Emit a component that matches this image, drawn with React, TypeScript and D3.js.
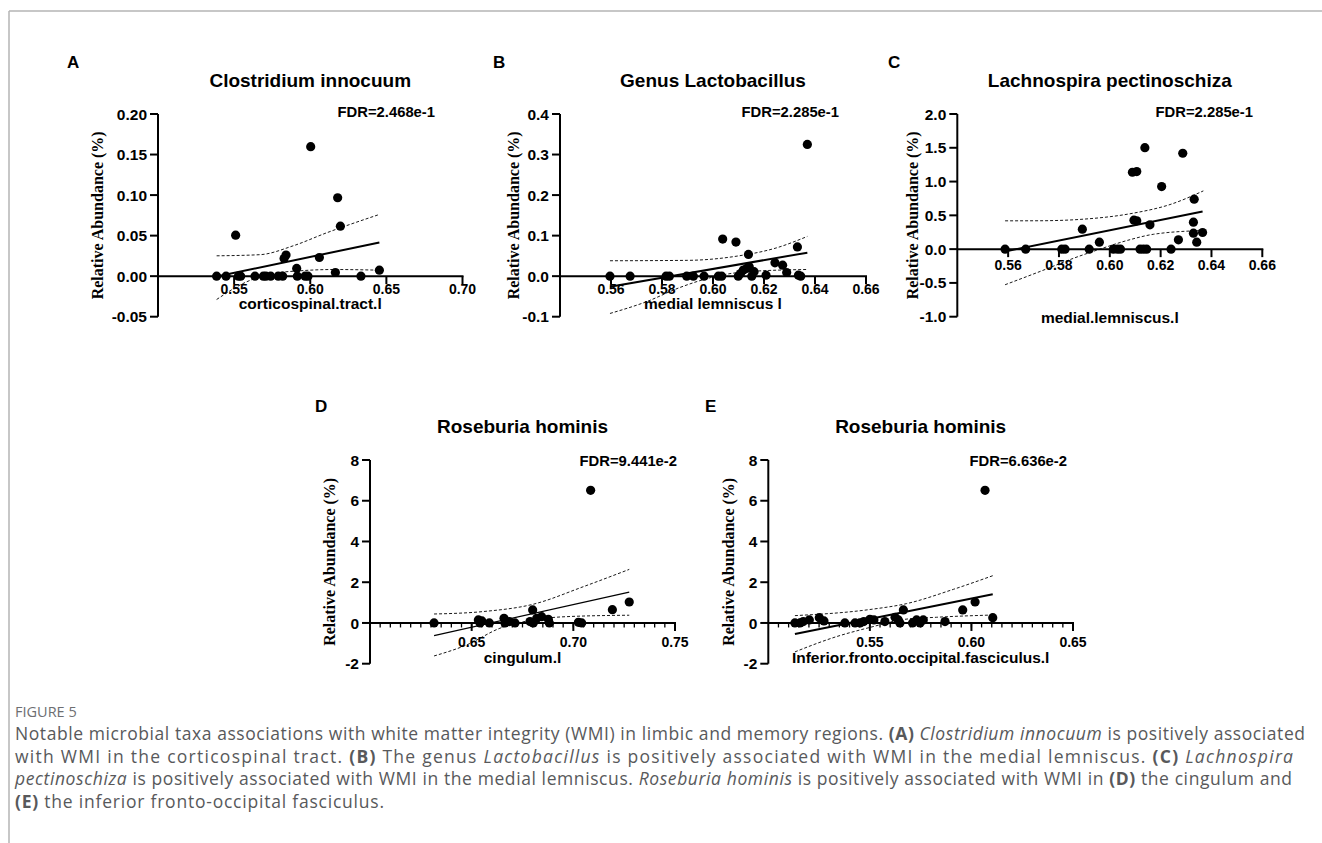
import React from "react";
import * as d3 from "d3";

type Pt = [number, number];

// ---- panel A : Clostridium innocuum ~ corticospinal.tract.l
const aPoints: Pt[] = [
  [0.5385, 0], [0.5447, 0], [0.551, 0.0506], [0.5528, 0], [0.5543, 0],
  [0.5637, 0], [0.5692, 0], [0.5709, 0], [0.574, 0], [0.579, 0],
  [0.5819, 0], [0.5828, 0.0218], [0.5841, 0.026], [0.5911, 0.0095], [0.5915, 0],
  [0.5966, 0], [0.5985, 0], [0.6003, 0.1597], [0.606, 0.023], [0.6165, 0.0045],
  [0.618, 0.0967], [0.6198, 0.0617], [0.6333, 0], [0.6454, 0.0074],
];
const aFit: Pt[] = [[0.5385, -0.0005], [0.6454, 0.0416]];
const aUpper: Pt[] = [[0.5385, 0.0251], [0.567, 0.0265], [0.5889, 0.0375], [0.6108, 0.0535], [0.6454, 0.0761]];
const aLower: Pt[] = [[0.5385, -0.0288], [0.5582, -0.007], [0.5757, 0.0033], [0.5933, 0.0066], [0.6152, 0.0082], [0.6454, 0.0074]];
const aXTicks = [0.55, 0.6, 0.65, 0.7];
const aYTicks = [-0.05, 0, 0.05, 0.1, 0.15, 0.2];

// ---- panel B : Genus Lactobacillus ~ medial lemniscus l
const bPoints: Pt[] = [
  [0.5596, 0], [0.5675, 0], [0.5816, 0], [0.5829, 0], [0.5897, 0],
  [0.5923, 0], [0.5965, 0], [0.6021, 0], [0.6034, 0], [0.6038, 0.0914],
  [0.609, 0.084], [0.6099, 0], [0.6108, 0.0066], [0.6119, 0.015], [0.6132, 0.019],
  [0.6139, 0.0535], [0.6142, 0.023], [0.6152, 0], [0.6161, 0.011], [0.6208, 0.0025],
  [0.6243, 0.033], [0.6273, 0.027], [0.6289, 0.009], [0.6331, 0.072], [0.6335, 0.0025],
  [0.6344, 0], [0.637, 0.325],
];
const bFit: Pt[] = [[0.5596, -0.026], [0.637, 0.058]];
const bUpper: Pt[] = [[0.5596, 0.038], [0.59, 0.039], [0.61, 0.05], [0.625, 0.07], [0.637, 0.098]];
const bLower: Pt[] = [[0.5596, -0.092], [0.5739, -0.063], [0.587, -0.028], [0.6001, -0.002], [0.6132, 0.011], [0.637, 0.0165]];
const bXTicks = [0.56, 0.58, 0.6, 0.62, 0.64, 0.66];
const bYTicks = [-0.1, 0, 0.1, 0.2, 0.3, 0.4];

// ---- panel C : Lachnospira pectinoschiza ~ medial.lemniscus.l
const cPoints: Pt[] = [
  [0.5588, 0], [0.5669, 0], [0.5811, 0], [0.5824, 0], [0.5892, 0.296],
  [0.5919, 0], [0.5959, 0.103], [0.6014, 0], [0.603, 0], [0.6042, 0],
  [0.6089, 1.138], [0.6106, 1.148], [0.6095, 0.429], [0.6106, 0.419], [0.6119, 0],
  [0.6132, 0], [0.6138, 1.502], [0.6145, 0], [0.6158, 0.36], [0.6204, 0.926],
  [0.6241, 0], [0.627, 0.138], [0.6287, 1.419], [0.6329, 0.399], [0.6332, 0.739],
  [0.6329, 0.236], [0.6342, 0.103], [0.6365, 0.246],
];
const cFit: Pt[] = [[0.5588, -0.034], [0.6365, 0.557]];
const cUpper: Pt[] = [[0.5588, 0.419], [0.5726, 0.42], [0.5883, 0.44], [0.6092, 0.532], [0.6237, 0.66], [0.6368, 0.862]];
const cLower: Pt[] = [[0.5588, -0.527], [0.5726, -0.33], [0.5861, -0.13], [0.5961, 0], [0.607, 0.13], [0.6172, 0.22], [0.6368, 0.276]];
const cXTicks = [0.56, 0.58, 0.6, 0.62, 0.64, 0.66];
const cYTicks = [-1, -0.5, 0, 0.5, 1, 1.5, 2];

// ---- panel D : Roseburia hominis ~ cingulum.l
const dPoints: Pt[] = [
  [0.6315, 0], [0.6533, 0.15], [0.6541, 0], [0.655, 0.1], [0.6587, 0],
  [0.6659, 0.23], [0.6664, 0], [0.6685, 0.07], [0.6713, 0], [0.6787, 0.07],
  [0.68, 0.64], [0.6803, 0], [0.682, 0.23], [0.6844, 0.31], [0.6877, 0.18],
  [0.6882, 0], [0.7025, 0.03], [0.7041, 0], [0.7085, 6.51], [0.7192, 0.65],
  [0.7275, 1.03],
];
const dFit: Pt[] = [[0.6315, -0.62], [0.7275, 1.51]];
const dUpper: Pt[] = [[0.6315, 0.44], [0.6557, 0.56], [0.6803, 0.92], [0.7049, 1.78], [0.7275, 2.63]];
const dLower: Pt[] = [[0.6315, -1.62], [0.6475, -1.08], [0.6639, -0.26], [0.6803, 0.15], [0.6967, 0.31], [0.7275, 0.38]];
const dXTicks = [0.65, 0.7, 0.75];
const dYTicks = [-2, 0, 2, 4, 6, 8];

// ---- panel E : Roseburia hominis ~ Inferior.fronto.occipital.fasciculus.l
const ePoints: Pt[] = [
  [0.5131, 0], [0.5156, 0], [0.5172, 0.07], [0.5202, 0.15], [0.5251, 0.26],
  [0.5274, 0.1], [0.5377, 0], [0.5427, 0], [0.5451, 0], [0.547, 0.07],
  [0.55, 0.18], [0.552, 0.15], [0.5574, 0.07], [0.5624, 0.28], [0.564, 0.15],
  [0.5648, 0], [0.5665, 0.64], [0.571, 0], [0.573, 0.15], [0.5747, 0],
  [0.5763, 0.15], [0.587, 0.07], [0.5957, 0.64], [0.6018, 1.03], [0.6067, 6.51],
  [0.6105, 0.26],
];
const eFit: Pt[] = [[0.5131, -0.54], [0.6105, 1.41]];
const eUpper: Pt[] = [[0.5131, 0.36], [0.55, 0.66], [0.5681, 0.95], [0.5911, 1.65], [0.6105, 2.32]];
const eLower: Pt[] = [[0.5131, -1.42], [0.5336, -0.67], [0.55, -0.22], [0.5665, 0.17], [0.5829, 0.28], [0.6105, 0.39]];
const eXTicks = [0.55, 0.6, 0.65];
const eYTicks = [-2, 0, 2, 4, 6, 8];

const SANS = "'Liberation Sans', Arial, sans-serif";
const SERIF = "'Liberation Serif', 'Times New Roman', serif";
const CAPTION_FONT = "'Open Sans', 'Noto Sans', sans-serif";

interface PanelSpec {
  letter: string;
  title: string;
  fdr: string;
  xLabel: string;
  points: Pt[];
  fit: Pt[];
  upper: Pt[];
  lower: Pt[];
  xTicks: number[];
  yTicks: number[];
  xDigits: number;
  yDigits: number;
  minorStep?: number;
  xDomain: [number, number];
  yDomain: [number, number];
  x0: number;
  x1: number;
  yTop: number;
  yBottom: number;
  letterAt: Pt;
  titleY: number;
  fdrAt: Pt;
  xLabelY: number;
  yLabelX: number;
  tickDy: number;
  fitWidth: number;
}

const panels: PanelSpec[] = [
  {
    letter: "A", title: "Clostridium innocuum", fdr: "FDR=2.468e-1", xLabel: "corticospinal.tract.l",
    points: aPoints, fit: aFit, upper: aUpper, lower: aLower, xTicks: aXTicks, yTicks: aYTicks,
    xDigits: 2, yDigits: 2, xDomain: [0.5, 0.7], yDomain: [-0.05, 0.2],
    x0: 158, x1: 462.5, yTop: 114, yBottom: 316.7,
    letterAt: [67, 68], titleY: 87, fdrAt: [435, 117], xLabelY: 308.5, yLabelX: 97,
    tickDy: 17.5, fitWidth: 2,
  },
  {
    letter: "B", title: "Genus Lactobacillus", fdr: "FDR=2.285e-1", xLabel: "medial lemniscus l",
    points: bPoints, fit: bFit, upper: bUpper, lower: bLower, xTicks: bXTicks, yTicks: bYTicks,
    xDigits: 2, yDigits: 1, xDomain: [0.54, 0.66], yDomain: [-0.1, 0.4],
    x0: 560, x1: 866, yTop: 114, yBottom: 316.7,
    letterAt: [493, 68], titleY: 87, fdrAt: [839, 117], xLabelY: 308.5, yLabelX: 513,
    tickDy: 17.5, fitWidth: 2,
  },
  {
    letter: "C", title: "Lachnospira pectinoschiza", fdr: "FDR=2.285e-1", xLabel: "medial.lemniscus.l",
    points: cPoints, fit: cFit, upper: cUpper, lower: cLower, xTicks: cXTicks, yTicks: cYTicks,
    xDigits: 2, yDigits: 1, xDomain: [0.54, 0.66], yDomain: [-1, 2],
    x0: 957.3, x1: 1262.3, yTop: 114, yBottom: 316.7,
    letterAt: [888, 68], titleY: 87, fdrAt: [1253, 117], xLabelY: 323, yLabelX: 912,
    tickDy: 21, fitWidth: 2,
  },
  {
    letter: "D", title: "Roseburia hominis", fdr: "FDR=9.441e-2", xLabel: "cingulum.l",
    points: dPoints, fit: dFit, upper: dUpper, lower: dLower, xTicks: dXTicks, yTicks: dYTicks,
    xDigits: 2, yDigits: 0, minorStep: 0.005, xDomain: [0.6, 0.75], yDomain: [-2, 8],
    x0: 370, x1: 675, yTop: 460, yBottom: 663.7,
    letterAt: [315, 412], titleY: 433, fdrAt: [677, 466], xLabelY: 663, yLabelX: 329,
    tickDy: 24, fitWidth: 1.2,
  },
  {
    letter: "E", title: "Roseburia hominis", fdr: "FDR=6.636e-2", xLabel: "Inferior.fronto.occipital.fasciculus.l",
    points: ePoints, fit: eFit, upper: eUpper, lower: eLower, xTicks: eXTicks, yTicks: eYTicks,
    xDigits: 2, yDigits: 0, minorStep: 0.005, xDomain: [0.5, 0.65], yDomain: [-2, 8],
    x0: 768.3, x1: 1073, yTop: 460, yBottom: 663.7,
    letterAt: [705, 412], titleY: 433, fdrAt: [1067, 466], xLabelY: 663, yLabelX: 728,
    tickDy: 24, fitWidth: 2,
  },
];

type Seg = [string, "n" | "b" | "i"];
const captionLines: Seg[][] = [
  [
    ["Notable microbial taxa associations with white matter integrity (WMI) in limbic and memory regions. ", "n"],
    ["(A)", "b"], [" ", "n"], ["Clostridium innocuum", "i"], [" is positively associated", "n"],
  ],
  [
    ["with WMI in the corticospinal tract. ", "n"], ["(B)", "b"], [" The genus ", "n"], ["Lactobacillus", "i"],
    [" is positively associated with WMI in the medial lemniscus. ", "n"], ["(C)", "b"], [" ", "n"], ["Lachnospira", "i"],
  ],
  [
    ["pectinoschiza", "i"], [" is positively associated with WMI in the medial lemniscus. ", "n"],
    ["Roseburia hominis", "i"], [" is positively associated with WMI in ", "n"], ["(D)", "b"], [" the cingulum and", "n"],
  ],
  [["(E)", "b"], [" the inferior fronto-occipital fasciculus.", "n"]],
];
const captionWidths = [1290, 1278, 1277, 369];

const Panel: React.FC<{ p: PanelSpec }> = ({ p }) => {
  const x = d3.scaleLinear().domain(p.xDomain).range([p.x0, p.x1]);
  const y = d3.scaleLinear().domain(p.yDomain).range([p.yBottom, p.yTop]);
  const y0 = y(0);
  const cx = (p.x0 + p.x1) / 2;
  const cy = (p.yTop + p.yBottom) / 2;
  const straight = d3.line<Pt>().x((d) => x(d[0])).y((d) => y(d[1]));
  const smooth = d3
    .line<Pt>()
    .x((d) => x(d[0]))
    .y((d) => y(d[1]))
    .curve(d3.curveMonotoneX);

  const minors: number[] = [];
  if (p.minorStep) {
    const n = Math.round((p.xDomain[1] - p.xDomain[0]) / p.minorStep);
    for (let i = 1; i <= n; i++) minors.push(p.xDomain[0] + i * p.minorStep);
  }

  return (
    <g>
      <text x={p.letterAt[0]} y={p.letterAt[1]} fontFamily={SANS} fontWeight="bold" fontSize={17}>
        {p.letter}
      </text>
      <text x={cx} y={p.titleY} textAnchor="middle" fontFamily={SANS} fontWeight="bold" fontSize={19}>
        {p.title}
      </text>
      <text x={p.fdrAt[0]} y={p.fdrAt[1]} textAnchor="end" fontFamily={SANS} fontWeight="bold" fontSize={14.8}>
        {p.fdr}
      </text>

      {/* 95% band and fitted line */}
      <path d={smooth(p.upper) || ""} fill="none" stroke="#000" strokeWidth={0.9} strokeDasharray="3 2" />
      <path d={smooth(p.lower) || ""} fill="none" stroke="#000" strokeWidth={0.9} strokeDasharray="3 2" />
      <path d={straight(p.fit) || ""} fill="none" stroke="#000" strokeWidth={p.fitWidth} />

      {/* axes */}
      <line x1={p.x0} x2={p.x0} y1={p.yTop} y2={p.yBottom} stroke="#000" strokeWidth={2} />
      <line x1={p.x0} x2={p.x1 + 1} y1={y0} y2={y0} stroke="#000" strokeWidth={2} />
      {p.yTicks.map((t) => (
        <g key={"y" + t}>
          <line x1={p.x0 - 8} x2={p.x0} y1={y(t)} y2={y(t)} stroke="#000" strokeWidth={2} />
          <text
            x={p.x0 - 11}
            y={y(t)}
            dy="0.36em"
            textAnchor="end"
            fontFamily={SANS}
            fontWeight="bold"
            fontSize={15.5}
          >
            {t.toFixed(p.yDigits)}
          </text>
        </g>
      ))}
      {minors.map((t) => (
        <line key={"m" + t} x1={x(t)} x2={x(t)} y1={y0} y2={y0 + 4.5} stroke="#000" strokeWidth={1.3} />
      ))}
      {p.xTicks.map((t) => (
        <g key={"x" + t}>
          <line x1={x(t)} x2={x(t)} y1={y0} y2={y0 + 8} stroke="#000" strokeWidth={2} />
          <text
            x={x(t)}
            y={y0 + p.tickDy}
            textAnchor="middle"
            fontFamily={SANS}
            fontWeight="bold"
            fontSize={14}
          >
            {t.toFixed(p.xDigits)}
          </text>
        </g>
      ))}

      {p.points.map((d, i) => (
        <circle key={i} cx={x(d[0])} cy={y(d[1])} r={4.6} fill="#000" />
      ))}

      <text x={cx} y={p.xLabelY} textAnchor="middle" fontFamily={SANS} fontWeight="bold" fontSize={15.5}>
        {p.xLabel}
      </text>
      <text
        transform={`translate(${p.yLabelX},${cy}) rotate(-90)`}
        dy="0.35em"
        textAnchor="middle"
        fontFamily={SERIF}
        fontWeight="bold"
        fontSize={16}
      >
        Relative Abundance (%)
      </text>
    </g>
  );
};

export default function App() {
  return (
    <svg
      width={1322}
      height={843}
      style={{ position: "absolute", left: 0, top: 0, background: "#fff" }}
    >
      <rect x={0} y={0} width={1322} height={843} fill="#fff" />
      <line x1={9} x2={1322} y1={11} y2={11} stroke="#b5b5b5" strokeWidth={1.5} />
      <line x1={9} x2={9} y1={11} y2={843} stroke="#b5b5b5" strokeWidth={1.5} />

      {panels.map((p) => (
        <Panel key={p.letter} p={p} />
      ))}

      <text x={15} y={717} fontFamily={CAPTION_FONT} fontSize={14.5} fill="#6d6e71">
        FIGURE 5
      </text>
      {captionLines.map((line, li) => (
        <text
          key={li}
          x={15}
          y={740 + li * 22.5}
          fontFamily={CAPTION_FONT}
          fontSize={17.5}
          fill="#58595b"
          textLength={captionWidths[li]}
          lengthAdjust="spacing"
        >
          {line.map(([s, k], si) => (
            <tspan
              key={si}
              fontWeight={k === "b" ? 700 : 400}
              fontStyle={k === "i" ? "italic" : "normal"}
            >
              {s}
            </tspan>
          ))}
        </text>
      ))}
    </svg>
  );
}
